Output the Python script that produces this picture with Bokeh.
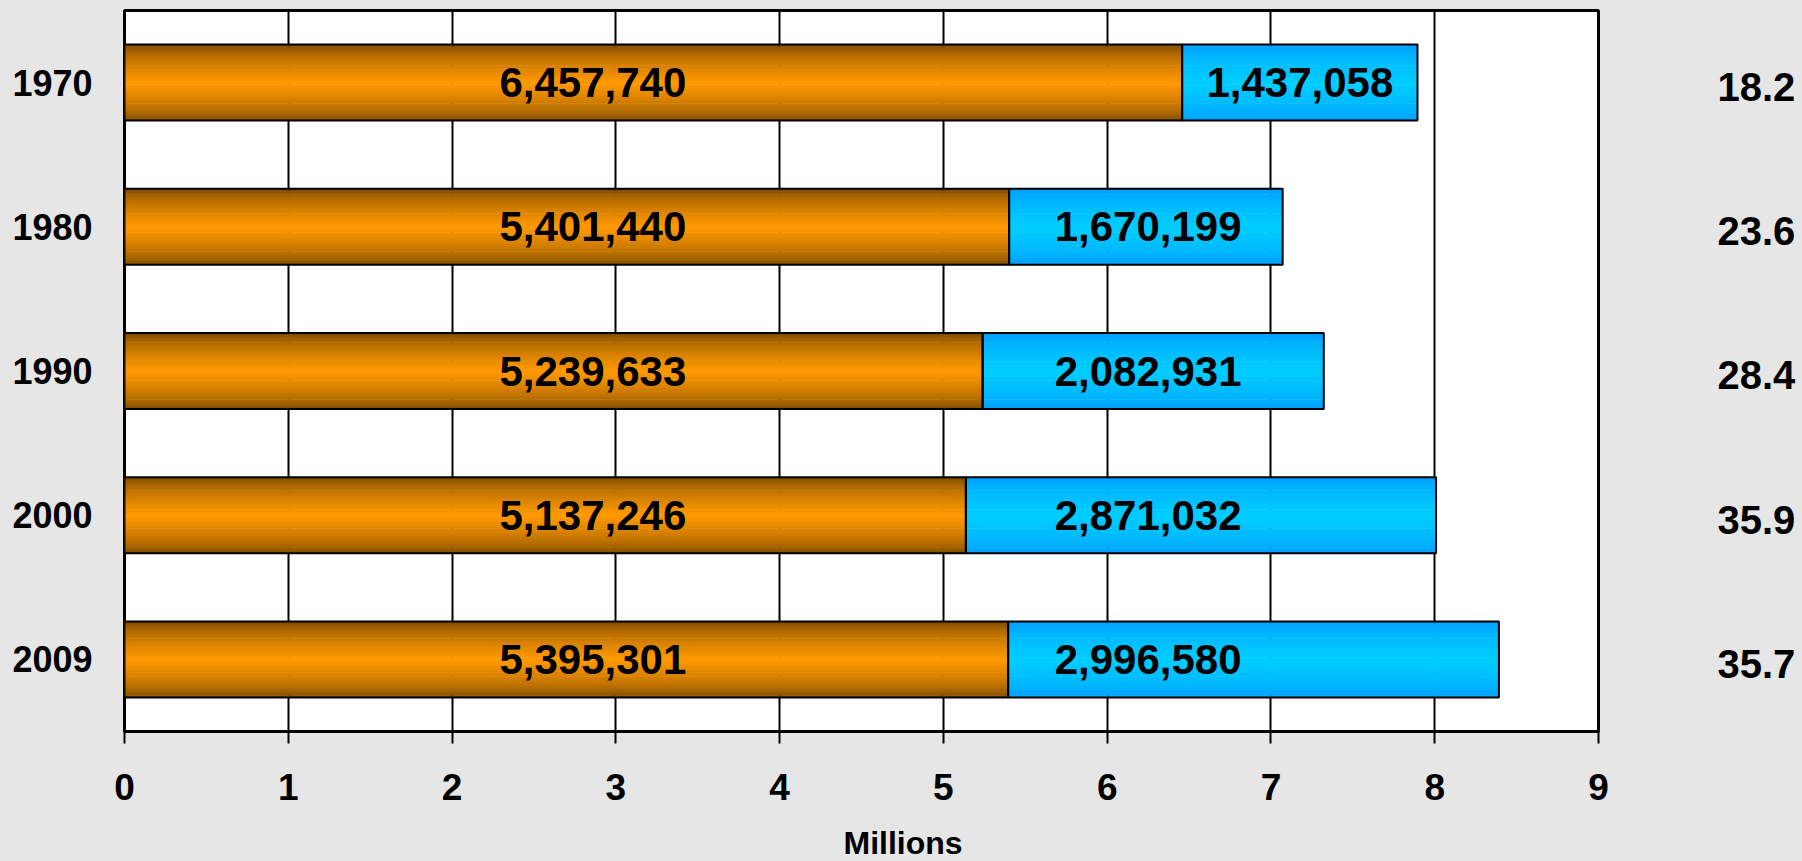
from bokeh.plotting import figure
from bokeh.models import Range1d, FixedTicker, LinearAxis, Title, ColumnDataSource
from bokeh.embed import file_html
from bokeh.resources import INLINE
from bokeh.core.properties import value

# ---------------- data ----------------
years = ["1970", "1980", "1990", "2000", "2009"]
group_a = [6457740, 5401440, 5239633, 5137246, 5395301]   # orange segment
group_b = [1437058, 1670199, 2082931, 2871032, 2996580]   # blue segment
share_b = [18.2, 23.6, 28.4, 35.9, 35.7]                  # right-hand labels
x_ticks = [0, 1, 2, 3, 4, 5, 6, 7, 8, 9]
x_title = "Millions"

# ---------------- style ----------------
FONT = "Liberation Sans"
BG = "#e6e6e6"
ORANGE_EDGE = (108, 64, 0)
ORANGE_MID = (255, 153, 0)
BLUE_EDGE = (0, 150, 255)
BLUE_MID = (0, 206, 255)
BAR_H = 0.527
N_STRIPS = 40
A_LABEL_X = 2.86      # text box position of the orange values
B_LABEL_X = 6.25      # text box position of the blue values
SCALE = 1e6

n = len(years)
ypos = [n - 0.5 - i for i in range(n)]   # first year at the top


def mix(c0, c1, t):
    return "#%02x%02x%02x" % tuple(int(round(a + (b - a) * t)) for a, b in zip(c0, c1))


p = figure(width=1802, height=861, output_backend="svg", toolbar_location=None,
           x_range=Range1d(0, x_ticks[-1]), y_range=Range1d(0, n),
           min_border_left=124, min_border_right=204, min_border_top=10, min_border_bottom=130,
           background_fill_color="white", border_fill_color=BG,
           outline_line_color="black", outline_line_width=3)

# gradient bars built from thin strips
sy, sl, sr, sc = [], [], [], []
for i in range(n):
    a = group_a[i] / SCALE
    b = group_b[i] / SCALE
    for left, right, edge, mid in [(0, a, ORANGE_EDGE, ORANGE_MID), (a, a + b, BLUE_EDGE, BLUE_MID)]:
        for j in range(N_STRIPS):
            f = (j + 0.5) / N_STRIPS
            t = (1 - abs(2 * f - 1)) ** 0.55
            sy.append(ypos[i] - BAR_H / 2 + f * BAR_H)
            sl.append(left)
            sr.append(right)
            sc.append(mix(edge, mid, t))
strips = ColumnDataSource(dict(y=sy, left=sl, right=sr, color=sc))
p.hbar(y="y", left="left", right="right", height=BAR_H / N_STRIPS * 1.3,
       fill_color="color", line_color=None, source=strips)

a_end = [v / SCALE for v in group_a]
b_end = [(va + vb) / SCALE for va, vb in zip(group_a, group_b)]
p.hbar(y=ypos, left=0, right=a_end, height=BAR_H, fill_color=None,
       line_color="black", line_width=2)
p.hbar(y=ypos, left=a_end, right=b_end, height=BAR_H, fill_color=None,
       line_color="black", line_width=2)

# value labels inside the bars
a_lx = [A_LABEL_X] * n
b_lx = [(ae + be) / 2 if ae > B_LABEL_X - 0.3 else B_LABEL_X for ae, be in zip(a_end, b_end)]
p.text(x=a_lx + b_lx, y=ypos + ypos,
       text=[f"{v:,}" for v in group_a] + [f"{v:,}" for v in group_b],
       text_font=value(FONT), text_font_size="42px", text_font_style="bold",
       text_color="black", text_align="center", text_baseline="middle")

# x axis
xa = p.xaxis[0]
xa.ticker = FixedTicker(ticks=x_ticks)
xa.axis_line_color = "black"
xa.axis_line_width = 3
xa.major_tick_out = 12
xa.major_tick_in = 0
xa.major_tick_line_width = 2
xa.major_tick_line_color = "black"
xa.minor_tick_line_color = None
xa.major_label_text_font = FONT
xa.major_label_text_font_size = "37px"
xa.major_label_text_font_style = "bold"
xa.major_label_text_color = "black"
xa.major_label_standoff = 30
# blank axis label only reserves room so the title below sits lower
xa.axis_label = " "
xa.axis_label_text_font = FONT
xa.axis_label_text_font_size = "32px"
xa.axis_label_text_color = BG
xa.axis_label_standoff = -14

p.xgrid.ticker = FixedTicker(ticks=x_ticks)
p.xgrid.grid_line_color = "black"
p.xgrid.grid_line_width = 2
p.ygrid.visible = False

# left axis: years
ya = p.yaxis[0]
ya.ticker = FixedTicker(ticks=ypos)
ya.major_label_overrides = {float(y): yr for y, yr in zip(ypos, years)}
ya.axis_line_color = None
ya.major_tick_line_color = None
ya.minor_tick_line_color = None
ya.major_label_text_font = FONT
ya.major_label_text_font_size = "36px"
ya.major_label_text_font_style = "bold"
ya.major_label_text_color = "black"
ya.major_label_standoff = 26

# right axis: shares
p.extra_y_ranges = {"share": Range1d(0.03, n + 0.03)}
ra = LinearAxis(y_range_name="share", ticker=FixedTicker(ticks=ypos),
                major_label_overrides={float(y): f"{s:.1f}" for y, s in zip(ypos, share_b)})
ra.axis_line_color = None
ra.major_tick_line_color = None
ra.minor_tick_line_color = None
ra.major_label_text_font = FONT
ra.major_label_text_font_size = "40px"
ra.major_label_text_font_style = "bold"
ra.major_label_text_color = "black"
ra.major_label_standoff = 113
p.add_layout(ra, "right")

# x axis title (as a title below the axis, shifted to where the reference has it)
t = Title(text=x_title, align="left", offset=719, standoff=-9, vertical_align="bottom",
          text_font=FONT, text_font_size="32px", text_font_style="bold", text_color="black")
p.add_layout(t, "below")

tmpl = ("{% block preamble %}<style>html,body{margin:0;padding:0;background:"
        + BG + ";overflow:hidden}</style>{% endblock %}")
open("out.html", "w").write(file_html(p, INLINE, template=tmpl))
